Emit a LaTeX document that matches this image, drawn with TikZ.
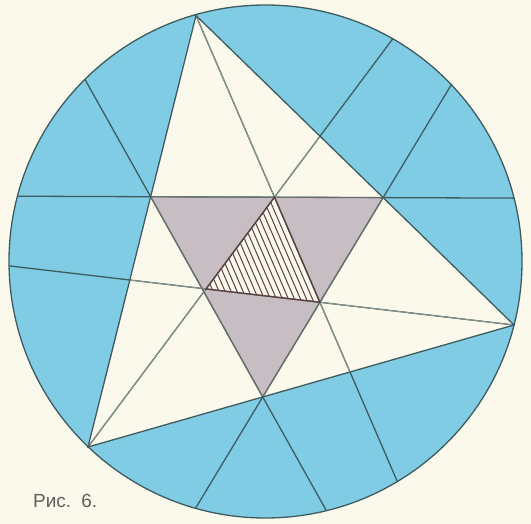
\documentclass[tikz,border=0pt]{standalone}
\usepackage{fontspec}
\newfontfamily\capfont{Liberation Sans}
\usetikzlibrary{calc}
\definecolor{paper}{RGB}{251,249,236}
\definecolor{skyfill}{RGB}{128,204,228}
\definecolor{greyfill}{RGB}{199,190,196}
\definecolor{inkdark}{RGB}{62,92,96}
\definecolor{inklight}{RGB}{145,152,144}
\definecolor{hatchink}{RGB}{95,64,66}
\definecolor{capgrey}{RGB}{95,95,92}

\begin{document}
\begin{tikzpicture}[
    x=1pt, y=-1pt,
    chord/.style={draw=inkdark, line width=1.3pt},
    inner/.style={draw=inklight, line width=0.9pt},
    hatch/.style={draw=hatchink, line width=1pt}
]
    \fill[paper] (0,0) rectangle (531,524);
    \useasboundingbox (0,0) rectangle (531,524);

    % circle and big triangle
    \coordinate (O) at (265.5,261.5);
    \coordinate (A) at (196,15.5);
    \coordinate (B) at (88,447);
    \coordinate (C) at (514,325);

    % feet of the cevians
    \coordinate (Da) at ($(B)!0.615!(C)$);
    \coordinate (Db) at ($(A)!0.39!(C)$);
    \coordinate (Dc) at ($(A)!0.613!(B)$);

    % hatched triangle
    \coordinate (P1) at (intersection of A--Da and B--Db);
    \coordinate (P2) at (intersection of B--Db and C--Dc);
    \coordinate (P3) at (intersection of C--Dc and A--Da);

    % grey triangle
    \coordinate (Q1) at ($(A)!0.42!(B)$);
    \coordinate (Q2) at (intersection of Q1--P1 and A--C);
    \coordinate (Q3) at (intersection of Q2--P3 and B--C);

    \fill[skyfill] (O) circle[radius=256.5pt];
    \fill[paper] (A) -- (B) -- (C) -- cycle;
    \fill[greyfill] (Q1) -- (Q2) -- (Q3) -- cycle;
    \fill[paper] (P1) -- (P2) -- (P3) -- cycle;

    \foreach \t in {1,...,17}
        \draw[hatch] ($(P2)!\t/18!(P1)$) -- ($(P2)!\t/18!(P3)$);

    \begin{scope}
        \clip (O) circle[radius=256.5pt];
        \foreach \p/\q in {B/Db, A/Da, C/Dc, Q1/Q2, Q2/Q3, Q1/Q3}
            \draw[chord] ($(\p)!-2!(\q)$) -- ($(\p)!3!(\q)$);
    \end{scope}
    \begin{scope}
        \clip (A) -- (B) -- (C) -- cycle;
        \foreach \p/\q in {B/Db, A/Da, C/Dc, Q1/Q2, Q2/Q3, Q1/Q3}
            \draw[inner] ($(\p)!-2!(\q)$) -- ($(\p)!3!(\q)$);
    \end{scope}

    \draw[inner, draw=inklight!70!black] (Q1) -- (Q2) -- (Q3) -- cycle;
    \draw[hatch, line width=1.3pt] (P1) -- (P2) -- (P3) -- cycle;
    \draw[chord] (A) -- (B) -- (C) -- cycle;
    \draw[chord] (O) circle[radius=256.5pt];

    \node[font=\capfont\fontsize{19}{22}\selectfont, text=capgrey,
          anchor=base west, inner sep=0pt] (caption) at (33,507) {Рис.\hspace{10pt}6.};
\end{tikzpicture}
\end{document}
